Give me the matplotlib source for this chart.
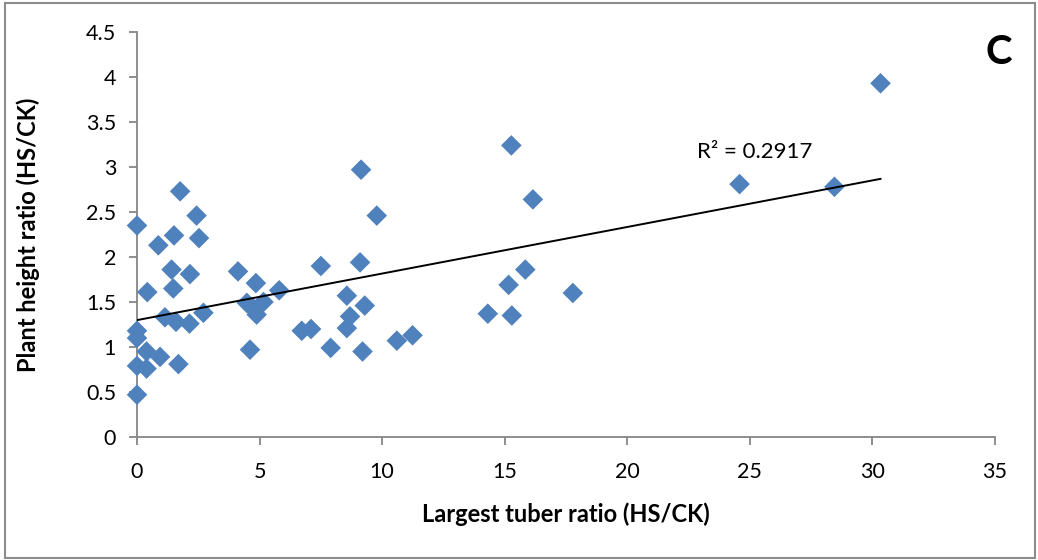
import matplotlib
matplotlib.use("Agg")
import matplotlib.pyplot as plt
import numpy as np

tuber_ratio = [0, 0, 0, 0, 0, 0.39, 0.39, 0.42, 0.94, 0.87,
               1.14, 1.51, 1.41, 1.48, 1.59, 1.69, 1.76, 2.16, 2.14, 2.43,
               2.53, 2.71, 4.12, 4.48, 4.61, 4.85, 4.88, 5.16, 5.8, 6.72,
               7.1, 7.5, 7.9, 8.56, 8.56, 8.69, 9.1, 9.14, 9.2, 9.29,
               9.78, 10.6, 11.24, 14.31, 15.16, 15.27, 15.29, 15.84, 16.15, 17.78,
               24.58, 28.45, 30.33, 4.7]
height_ratio = [0.47, 2.35, 1.18, 1.10, 0.79, 0.95, 0.76, 1.61, 0.89, 2.13,
                1.33, 2.24, 1.86, 1.65, 1.28, 0.81, 2.73, 1.81, 1.26, 2.46,
                2.21, 1.38, 1.84, 1.49, 0.97, 1.71, 1.36, 1.50, 1.63, 1.18,
                1.20, 1.90, 0.99, 1.57, 1.21, 1.34, 1.94, 2.97, 0.95, 1.46,
                2.46, 1.07, 1.13, 1.37, 1.69, 3.24, 1.35, 1.86, 2.64, 1.60,
                2.81, 2.78, 3.93, 1.44]
x_ticks = [0, 5, 10, 15, 20, 25, 30, 35]
y_ticks = [0, 0.5, 1, 1.5, 2, 2.5, 3, 3.5, 4, 4.5]
y_tick_labels = ["0", "0.5", "1", "1.5", "2", "2.5", "3", "3.5", "4", "4.5"]
r2_label = "R² = 0.2917"
panel_label = "C"

plt.rcParams['font.family'] = ['Lato', 'DejaVu Sans']

fig = plt.figure(figsize=(10.38, 5.6), dpi=100)
# outer frame
fig.patches.append(plt.Rectangle((0.005, 0.003), 0.992, 0.992, transform=fig.transFigure,
                                 fill=False, edgecolor='#8c8c8c', linewidth=1.5))
ax = fig.add_axes([137/1038, 1-437/560, (995-137)/1038, (437-32)/560])

x = np.array(tuber_ratio)
y = np.array(height_ratio)
ax.scatter(x, y, marker='D', s=110, color='#4F81BD', edgecolors='none', zorder=3, clip_on=False)

m, b = np.polyfit(x, y, 1)
xs = np.array([0, x.max()])
ax.plot(xs, m*xs + b, color='black', linewidth=1.4, zorder=4)

ax.set_xlim(0, 35)
ax.set_ylim(0, 4.5)
ax.set_xticks(x_ticks)
ax.set_yticks(y_ticks)
ax.set_yticklabels(y_tick_labels)
for s in ['top', 'right']:
    ax.spines[s].set_visible(False)
for s in ['left', 'bottom']:
    ax.spines[s].set_color('#868686')
    ax.spines[s].set_linewidth(1.3)
ax.tick_params(axis='both', direction='out', length=6, width=1.3, color='#868686',
               labelsize=15.5, labelcolor='black')
ax.tick_params(axis='x', pad=12)
ax.tick_params(axis='y', pad=9)

ax.set_xlabel("Largest tuber ratio (HS/CK)", fontsize=17, fontweight='bold', labelpad=15)
ax.set_ylabel("Plant height ratio (HS/CK)", fontsize=17, fontweight='bold', labelpad=33)

ax.text(22.85, 3.17, r2_label, fontsize=16, ha='left', va='center')
fig.text(999/1038, 1-52/560, panel_label, fontsize=29, fontweight='bold', ha='center', va='center')

fig.savefig("out.png", dpi=100)
